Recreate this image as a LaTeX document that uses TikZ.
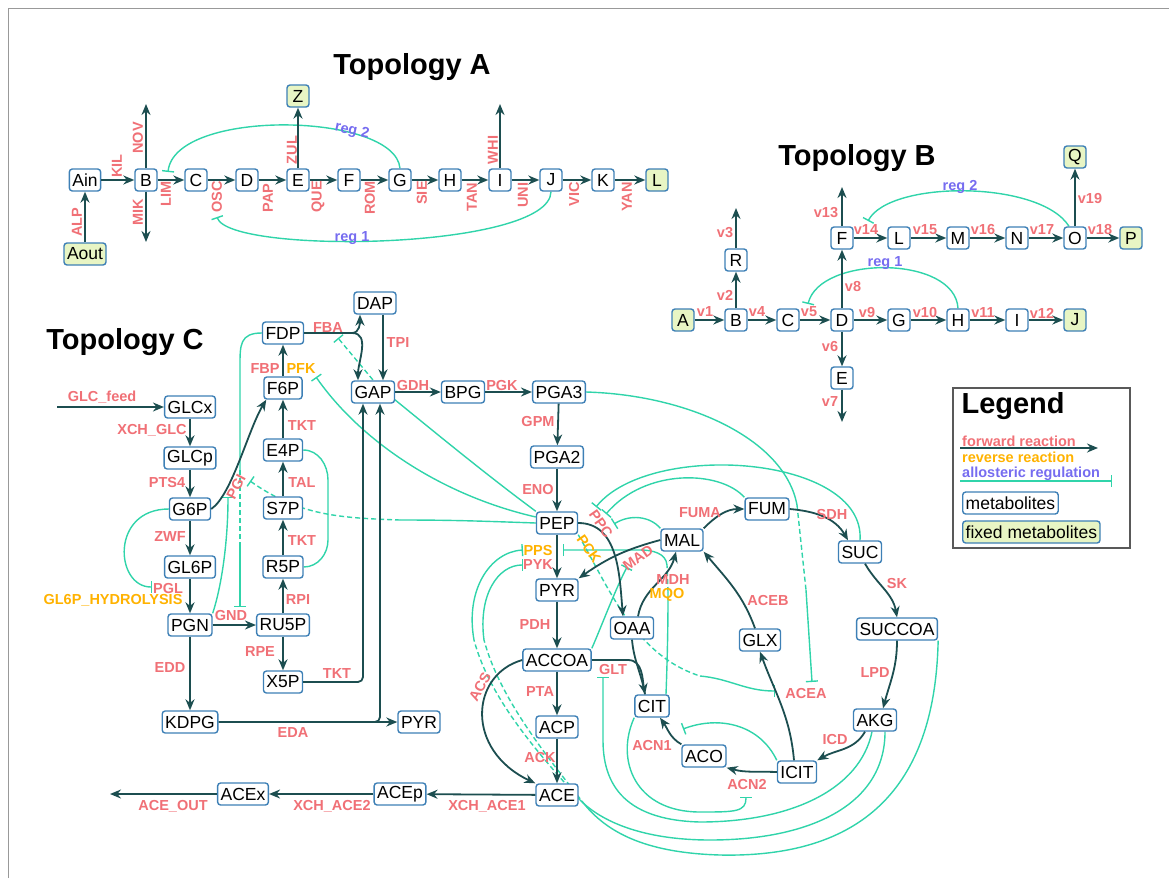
\documentclass[tikz,border=0pt]{standalone}
\usepackage{fontspec}
\setmainfont{Liberation Sans}
\usetikzlibrary{arrows.meta,backgrounds,calc}
\definecolor{metblue}{RGB}{62,128,182}
\definecolor{fixfill}{RGB}{232,245,196}
\definecolor{rxncol}{RGB}{28,78,80}
\definecolor{regcol}{RGB}{48,212,170}
\definecolor{fwcol}{RGB}{240,112,118}
\definecolor{rvcol}{RGB}{255,178,0}
\definecolor{rgcol}{RGB}{118,108,240}
\newcommand{\metfont}{\fontsize{17.5}{18}\selectfont}
\newcommand{\labfont}{\fontsize{14.5}{15}\selectfont\bfseries}
\newcommand{\ttlfont}{\fontsize{29}{31}\selectfont\bfseries}

\begin{document}
\begin{tikzpicture}[x=1pt, y=1pt,
  met/.style={draw=metblue, line width=1.4pt, rounded corners=3pt, fill=white,
              font=\metfont, minimum height=22pt, minimum width=22pt,
              inner xsep=3pt, inner ysep=1pt},
  fixd/.style={met, fill=fixfill},
  rxn/.style={-{Stealth[length=11pt, width=9pt]}, line width=1.8pt, rxncol},
  rxnl/.style={line width=1.8pt, rxncol},
  reg/.style={-{Bar[width=12pt]}, line width=1.4pt, regcol},
  regl/.style={line width=1.4pt, regcol},
  dsh/.style={dash pattern=on 5pt off 3pt},
  fw/.style={font=\labfont, text=fwcol, inner sep=1pt},
  rv/.style={fw, text=rvcol},
  rg/.style={fw, text=rgcol},
  ttl/.style={font=\ttlfont},
  framel/.style={draw=gray!80, line width=0.8pt},
]
\useasboundingbox (0,0) rectangle (1169,-878);
\draw[framel] (8,-878) -- (8,-8) -- (1169,-8);

% ---- Topology A ----
\node[ttl] (ttlA) at (412,-67) {Topology A};
\node[met] (aAin) at (85,-180) {Ain};
\node[fixd] (aAout) at (85,-254) {Aout};
\foreach \n/\x in {B/146,C/196,D/247,E/298,F/349,G/400,H/450,I/500,J/551,K/603}
  \node[met] (a\n) at (\x,-180) {\n};
\node[fixd] (aL) at (657,-180) {L};
\node[fixd] (aZ) at (298,-96) {Z};
\coordinate (aBup) at (146,-104);
\coordinate (aBdn) at (146,-242);
\coordinate (aIup) at (500,-104);

\foreach \s/\t in {Ain/B,B/C,C/D,D/E,E/F,F/G,G/H,H/I,I/J,J/K,K/L}
  \draw[rxn] (a\s) -- (a\t);
\draw[rxn] (aAout) -- (aAin);
\draw[rxn] (aB) -- (aBup);
\draw[rxn] (aB) -- (aBdn);
\draw[rxn] (aE) -- (aZ);
\draw[rxn] (aI) -- (aIup);

\foreach \t/\x/\y in {KIL/117/166,NOV/138/138,MIK/138/212,LIM/166/194,OSC/217/197,
    PAP/268/198,ZUL/292/150,QUE/318/197,ROM/370/198,SIE/422/193,TAN/472/197,
    UNI/523/195,WHI/493/150,VIC/574/194,YAN/627/197,ALP/77/222}
  \node[fw, rotate=90] (l\t) at (\x,-\y) {\t};

\coordinate (iLIM) at (168,-172);
\coordinate (iOSC) at (217,-217);
\begin{scope}[on background layer]
  \draw[reg] (aG.north) .. controls (395,-112) and (175,-108) .. (iLIM);
  \draw[reg] (aJ.south) .. controls (550,-250) and (230,-255) .. (iOSC);
\end{scope}
\node[rg, rotate=-12] (rA2) at (352,-131) {reg 2};
\node[rg] (rA1) at (352,-238) {reg 1};

% ---- Topology B ----
\node[ttl] (ttlB) at (857,-158) {Topology B};
\node[fixd] (bA) at (683,-320) {A};
\foreach \n/\x in {B/736,C/788,D/842,G/899,H/958,I/1017}
  \node[met] (b\n) at (\x,-320) {\n};
\node[fixd] (bJ) at (1075,-320) {J};
\foreach \n/\x in {F/842,L/899,M/958,N/1017,O/1075}
  \node[met] (b\n) at (\x,-238) {\n};
\node[fixd] (bP) at (1131,-238) {P};
\node[fixd] (bQ) at (1075,-157) {Q};
\node[met] (bR) at (736,-260) {R};
\node[met] (bE) at (842,-378) {E};
\coordinate (bRup) at (736,-208);
\coordinate (bFup) at (842,-187);
\coordinate (bEdn) at (842,-422);

\foreach \s/\t in {A/B,B/C,C/D,D/G,G/H,H/I,I/J,F/L,L/M,M/N,N/O,O/P,
    B/R,R/Rup,D/F,F/Fup,D/E,E/Edn,O/Q}
  \draw[rxn] (b\s) -- (b\t);

\foreach \t/\x/\y in {v1/705/312,v2/725/295,v3/725/233,v4/757/312,v5/809/312,
    v6/830/347,v7/830/402,v8/853/287,v9/867/313,v10/925/313,v11/983/313,
    v12/1042/313,v13/826/213,v14/866/230,v15/925/230,v16/983/230,v17/1042/230,
    v18/1100/230,v19/1090/199}
  \node[fw] (l\t) at (\x,-\y) {\t};

\coordinate (iv14) at (868,-221);
\coordinate (iv5) at (808,-304);
\begin{scope}[on background layer]
  \draw[reg] ([xshift=-6pt]bO.north) .. controls (1040,-180) and (890,-180) .. (iv14);
  \draw[reg] (bH.north) .. controls (955,-255) and (820,-255) .. (iv5);
\end{scope}
\node[rg] (rB2) at (960,-187) {reg 2};
\node[rg] (rB1) at (885,-263) {reg 1};

% ---- Topology C: metabolites ----
\node[ttl] (ttlC) at (125,-342) {Topology C};
\foreach \n/\y in {GLCx/407,GLCp/458,G6P/509,GL6P/567,PGN/625,KDPG/722}
  \node[met] (\n) at (190,-\y) {\n};
\foreach \n/\y in {FDP/333,F6P/388,E4P/450,S7P/508,R5P/567,RU5P/625,X5P/682}
  \node[met] (\n) at (283,-\y) {\n};
\foreach \n/\y in {PGA2/457,PEP/523,ACCOA/660,ACP/727,ACE/795}
  \node[met] (\n) at (557,-\y) {\n};
\node[met] (cPYR) at (557,-590) {PYR};
\node[met] (DAP) at (375,-303) {DAP};
\node[met] (GAP) at (373,-392) {GAP};
\node[met] (BPG) at (463,-392) {BPG};
\node[met] (PGA3) at (559,-392) {PGA3};
\node[met] (cPYRb) at (419,-722) {PYR};
\node[met] (ACEp) at (400,-794) {ACEp};
\node[met] (ACEx) at (243,-794) {ACEx};
\node[met] (OAA) at (632,-628) {OAA};
\node[met] (MAL) at (682,-540) {MAL};
\node[met] (FUM) at (767,-509) {FUM};
\node[met] (SUC) at (860,-552) {SUC};
\node[met] (SUCCOA) at (897,-629) {SUCCOA};
\node[met] (AKG) at (875,-720) {AKG};
\node[met] (ICIT) at (797,-772) {ICIT};
\node[met] (ACO) at (704,-756) {ACO};
\node[met] (CIT) at (652,-706) {CIT};
\node[met] (GLX) at (760,-640) {GLX};

% ---- Topology C: reactions ----
\coordinate (cFeed) at (57,-407);
\coordinate (cOut) at (110,-794);
\draw[rxn] (cFeed) -- (GLCx);
\foreach \s/\t in {GLCx/GLCp,GLCp/G6P,G6P/GL6P,GL6P/PGN,PGN/KDPG,F6P/FDP,E4P/F6P,
    S7P/E4P,R5P/S7P,RU5P/R5P,RU5P/X5P,PGN/RU5P,GAP/BPG,BPG/PGA3,PGA3/PGA2,
    PGA2/PEP,PEP/cPYR,cPYR/ACCOA,ACCOA/ACP,ACP/ACE,ACE/ACEp,ACEp/ACEx,ACEx/cOut}
  \draw[rxn] (\s) -- (\t);
\draw[rxn] (G6P.east) .. controls (232,-495) and (248,-430) .. ([xshift=3pt]F6P.south west);
\coordinate (cFBA) at (352,-333);
\draw[rxnl] (FDP.east) -- (cFBA);
\draw[rxn] (cFBA) to[out=0,in=-90] ([xshift=-15pt]DAP.south);
\draw[rxn] (cFBA) to[out=0,in=90] ([xshift=-15pt]GAP.north);
\draw[rxn] ([xshift=8pt]DAP.south) -- ([xshift=10pt]GAP.north);
\draw[rxn, rounded corners=5pt] (X5P.east) -| ([xshift=-10pt]GAP.south);
\draw[rxn] (KDPG.east) -- (cPYRb.west);
\draw[rxn, rounded corners=5pt] (KDPG.east) -| ([xshift=7pt]GAP.south);
\draw[rxn] (PEP.east) to[out=0,in=95] ([xshift=-9pt]OAA.north);
\draw[rxn] (MAL.west) to[out=195,in=35] (cPYR.north east);
\draw[rxn] ([xshift=6pt]OAA.north) to[out=80,in=-105] ([xshift=-6pt]MAL.south);
\coordinate (cGLT) at (628,-660);
\draw[rxnl] (ACCOA.east) -- (cGLT);
\draw[rxn] (cGLT) to[out=0,in=100] ([xshift=-7pt]CIT.north);
\draw[rxnl] (OAA.south) to[out=-85,in=100] ([xshift=-7pt]CIT.north);
\draw[rxn] (MAL.north east) to[out=45,in=180] (FUM.west);
\draw[rxn] (FUM.east) to[out=-5,in=120] ([xshift=-12pt]SUC.north);
\draw[rxn] ([xshift=5pt]SUC.south) to[out=-60,in=100] (SUCCOA.north);
\draw[rxn] (SUCCOA.south) to[out=-90,in=75] ([xshift=8pt]AKG.north);
\draw[rxn] ([xshift=-10pt]AKG.south) to[out=-120,in=30] (ICIT.north east);
\draw[rxn] (ICIT.west) to[out=178,in=-15] (ACO.south east);
\draw[rxn] (ACO.north west) to[out=150,in=-55] ([xshift=8pt]CIT.south);
\draw[rxn] ([xshift=-3pt]ICIT.north) to[out=95,in=-70] (GLX.south);
\draw[rxn] ([xshift=-5pt]GLX.north) to[out=110,in=-50] (MAL.south east);
\draw[rxn] (ACCOA.west) .. controls (470,-675) and (465,-750) .. (ACE.north west);

% ---- Topology C: reaction labels ----
\foreach \t/\x/\y [count=\i] in {GLC\_feed/102/397,XCH\_GLC/152/430,PTS4/167/483,
    ZWF/170/537,PGL/168/588,EDD/170/668,GND/231/615,FBA/328/328,FBP/265/369,
    TKT/302/426,TAL/302/483,TKT/302/541,RPI/298/600,RPE/260/652,TKT/337/674,
    EDA/293/733,TPI/398/343,GDH/413/386,PGK/502/386,GPM/538/422,ENO/538/490,
    PYK/538/565,MDH/673/580,PDH/535/625,GLT/613/669,PTA/540/692,ACK/540/757,
    ACN1/652/745,ACN2/747/784,FUMA/700/513,SDH/832/515,ACEB/768/600,SK/897/583,
    ACEA/806/693,LPD/875/673,ICD/835/739,XCH\_ACE1/487/806,XCH\_ACE2/332/806,
    ACE\_OUT/173/806}
  \node[fw] (cl\i) at (\x,-\y) {\t};
\foreach \t/\x/\y [count=\i] in {GL6P\_HYDROLYSIS/113/600,PFK/301/369,PPS/538/551,
    MQO/667/595}
  \node[rv] (cr\i) at (\x,-\y) {\t};
\node[rv, rotate=-55] (crPCK) at (589,-549) {PCK};
\node[fw, rotate=62] (clPGI) at (236,-487) {PGI};
\node[fw, rotate=-55] (clPPC) at (601,-524) {PPC};
\node[fw, rotate=35] (clMAD) at (638,-558) {MAD};
\node[fw, rotate=62] (clACS) at (480,-687) {ACS};

% ---- Topology C: regulations ----
\coordinate (iGND) at (240,-607);
\coordinate (iPGIa) at (228,-497);
\coordinate (iPGIb) at (250,-481);
\coordinate (iPFK) at (316,-377);
\coordinate (iFBA) at (338,-338);
\coordinate (iPGL) at (152,-587);
\coordinate (iACEAa) at (812,-682);
\coordinate (iACEAb) at (775,-691);
\coordinate (iMAD) at (627,-567);
\coordinate (iPPSr) at (563,-550);
\coordinate (iPPSl) at (523,-550);
\coordinate (iPYK) at (523,-565);
\coordinate (iPPCa) at (596,-507);
\coordinate (iPPCb) at (606,-514);
\coordinate (iPPCc) at (614,-524);
\coordinate (iGLT) at (603,-677);
\coordinate (iACN1) at (683,-729);
\coordinate (iACN2) at (746,-797);
\begin{scope}[on background layer]
  \draw[regl] (FDP.west) .. controls (240,-333) and (240,-345) .. (240,-365) -- (240,-470) coordinate (cGa);
  \draw[regl, dsh] (cGa) -- (240,-545) coordinate (cGb);
  \draw[reg] (cGb) -- (iGND);
  \draw[reg] (PGN.north east) .. controls (222,-585) and (228,-540) .. (iPGIa);
  \draw[regl] (PEP.west) to[out=178,in=0] (400,-520) coordinate (cSd);
  \draw[reg, dsh] (cSd) to[out=178,in=-35] (iPGIb);
  \draw[reg] ([yshift=6pt]PEP.west) .. controls (440,-495) and (360,-440) .. (iPFK);
  \draw[regl] (PEP.north west) .. controls (480,-470) and (420,-420) .. (378,-386) coordinate (cFd);
  \draw[reg, dsh] (cFd) -- (iFBA);
  \draw[reg] (G6P.west) .. controls (110,-509) and (115,-587) .. (iPGL);
  \draw[regl] (E4P.east) to[out=0,in=90] (328,-480) -- (328,-540) to[out=-90,in=0] (R5P.east);
  \draw[regl] (PGA3.east) .. controls (690,-395) and (785,-440) .. (797,-505) coordinate (cAa);
  \draw[regl, dsh] (cAa) -- (806,-590) coordinate (cAb);
  \draw[reg] (cAb) -- (iACEAa);
  \draw[regl, dsh] (PEP.south east) .. controls (610,-590) and (635,-655) .. (700,-676) coordinate (cAc);
  \draw[reg] (cAc) to[out=-5,in=180] (iACEAb);
  \draw[reg] (ACCOA.north east) .. controls (600,-630) and (615,-590) .. (iMAD);
  \draw[regl] ([xshift=14pt]CIT.north) .. controls (668,-640) and (668,-610) .. (668,-592) coordinate (cCa);
  \draw[regl, dsh] (cCa) -- (667,-565) coordinate (cCb);
  \draw[reg] (cCb) to[out=95,in=0] (640,-550) -- (iPPSr);
  \draw[reg] (SUC.north) .. controls (866,-455) and (650,-440) .. (iPPCa);
  \draw[reg] (FUM.north west) .. controls (720,-470) and (645,-468) .. (iPPCb);
  \draw[reg] (MAL.north west) .. controls (650,-516) and (630,-514) .. (iPPCc);
  % long arcs round the TCA cycle to the PEP node
  \draw[regl] (SUCCOA.south east) .. controls (935,-790) and (860,-858) .. (720,-855)
    .. controls (650,-853) and (610,-835) .. (585,-805) coordinate (cS1);
  \draw[regl, dsh] (cS1) .. controls (550,-760) and (500,-700) .. (484,-640) coordinate (cS2);
  \draw[reg] (cS2) .. controls (478,-595) and (498,-565) .. (iPYK);
  \draw[regl] ([xshift=10pt]AKG.south) .. controls (885,-805) and (810,-840) .. (710,-840)
    .. controls (650,-840) and (605,-825) .. (580,-800) coordinate (cK1);
  \draw[regl, dsh] (cK1) .. controls (540,-755) and (490,-700) .. (474,-640) coordinate (cK2);
  \draw[reg] (cK2) .. controls (465,-590) and (490,-552) .. (iPPSl);
  \draw[reg] ([xshift=-3pt]AKG.south) .. controls (860,-790) and (790,-822) .. (700,-822)
    .. controls (620,-820) and (603,-780) .. (603,-740) -- (iGLT);
  \draw[reg] (CIT.south west) .. controls (615,-760) and (635,-812) .. (700,-812)
    .. controls (735,-812) and (746,-812) .. (iACN2);
  \draw[reg] (ICIT.north west) .. controls (760,-725) and (720,-715) .. (iACN1);
\end{scope}

% ---- legend ----
\draw[draw=gray!70!black, line width=1.5pt] (953,-388) rectangle (1130,-548);
\node[ttl, anchor=west] (lgT) at (958,-406) {Legend};
\coordinate (lgA1) at (960,-448);
\coordinate (lgA2) at (1098,-448);
\coordinate (lgR1) at (960,-481);
\coordinate (lgR2) at (1112,-481);
\draw[rxn] (lgA1) -- (lgA2);
\draw[reg] (lgR1) -- (lgR2);
\node[fw, anchor=west] (lgF) at (961,-441) {forward reaction};
\node[rv, anchor=west] (lgV) at (961,-457) {reverse reaction};
\node[rg, anchor=west] (lgG) at (961,-474) {allosteric regulation};
\node[met, anchor=west] (lgM) at (962,-503) {metabolites};
\node[fixd, anchor=west] (lgX) at (962,-532) {fixed metabolites};
\end{tikzpicture}
\end{document}
